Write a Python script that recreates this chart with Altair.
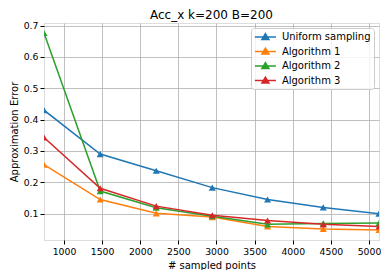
import altair as alt
import pandas as pd

x_points = [738, 1475, 2210, 2945, 3670, 4400, 5131]
series_names = ["Uniform sampling", "Algorithm 1", "Algorithm 2", "Algorithm 3"]
uniform = [0.430, 0.290, 0.237, 0.183, 0.145, 0.120, 0.100]
alg1 = [0.256, 0.145, 0.101, 0.089, 0.059, 0.051, 0.048]
alg2 = [0.676, 0.172, 0.119, 0.092, 0.066, 0.069, 0.070]
alg3 = [0.343, 0.181, 0.124, 0.095, 0.078, 0.066, 0.059]
colors = ["#1f77b4", "#ff7f0e", "#2ca02c", "#d62728"]
x_ticks = [1000, 1500, 2000, 2500, 3000, 3500, 4000, 4500, 5000]
y_ticks = [0.1, 0.2, 0.3, 0.4, 0.5, 0.6, 0.7]

rows = []
for name, vals in zip(series_names, [uniform, alg1, alg2, alg3]):
    for i, (xv, yv) in enumerate(zip(x_points, vals)):
        rows.append({"series": name, "x": xv, "y": yv, "i": i})
df = pd.DataFrame(rows)

font = "DejaVu Sans"
legend_path = "M-2.1,0H2.1M0,-0.65L0.7,0.5H-0.7Z"

common_axis = dict(grid=True, gridColor="#b0b0b0", gridWidth=0.8,
                   tickColor="#000", labelColor="#000", domain=False,
                   tickSize=4, labelFontSize=9.3, titleFontSize=10,
                   labelFont=font, titleFont=font, titleFontWeight="normal",
                   titleColor="#000")

xenc = alt.X("x:Q", scale=alt.Scale(domain=[738, 5131], nice=False, zero=False),
             axis=alt.Axis(values=x_ticks, format="d", title="# sampled points",
                           labelPadding=3, titlePadding=4, **common_axis))
yenc = alt.Y("y:Q", scale=alt.Scale(domain=[0.016, 0.708], nice=False, zero=False),
             axis=alt.Axis(values=y_ticks, format=".1f", title="Approximation Error",
                           labelPadding=2, titlePadding=6,
                           titleBaseline="alphabetic", **common_axis))
cenc = alt.Color("series:N", scale=alt.Scale(domain=series_names, range=colors),
                 sort=series_names,
                 legend=alt.Legend(title=None, orient="top-right", offset=5,
                                   symbolType=legend_path, symbolSize=100,
                                   symbolStrokeWidth=1.5, symbolOffset=5.4,
                                   labelFont=font, labelFontSize=10,
                                   labelColor="#000",
                                   fillColor="rgba(255,255,255,0.8)",
                                   strokeColor="#cccccc", cornerRadius=3,
                                   padding=3, rowPadding=1.5, labelOffset=10.5))

base = alt.Chart(df)
lines = base.mark_line(strokeWidth=1.5, clip=True).encode(
    x=xenc, y=yenc, color=cenc, order="i:Q")
points = base.mark_point(shape="triangle-up", filled=True, size=50, opacity=1,
                         clip=True).encode(x=xenc, y=yenc, color=cenc)

chart = alt.layer(lines, points).properties(
    width=335, height=217,
    title=alt.Title("Acc_x k=200 B=200", font=font, fontSize=12,
                    fontWeight="normal", color="#000", offset=0),
    autosize=alt.AutoSizeParams(type="none"),
    padding={"left": 36, "top": 15, "right": 2, "bottom": 30},
).configure_view(stroke="#000", strokeWidth=1).configure(background="white")

chart.save("out.html", embed_options={"renderer": "svg", "actions": False})
